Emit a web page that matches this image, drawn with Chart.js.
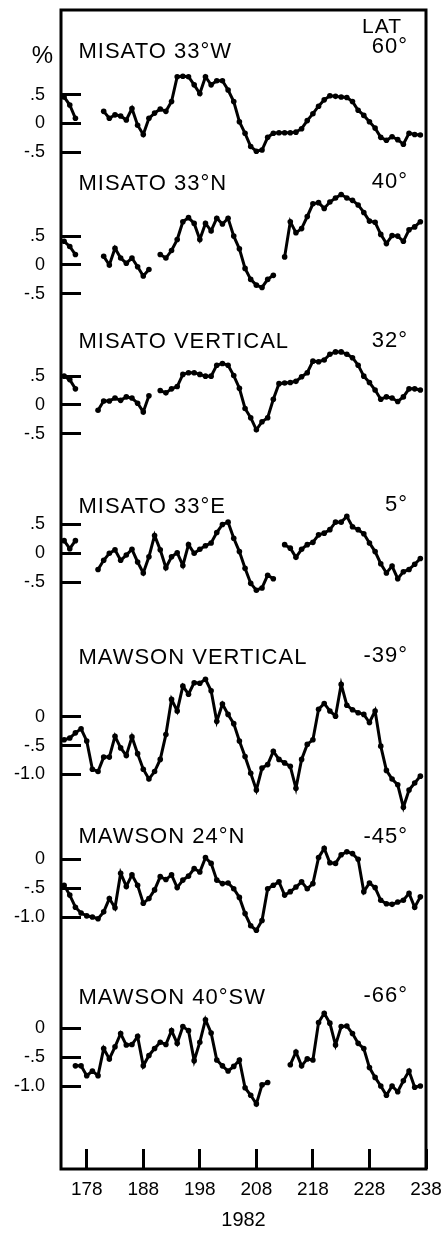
<!DOCTYPE html>
<html>
<head>
<meta charset="utf-8">
<script src="https://cdn.jsdelivr.net/npm/chart.js@4.4.1/dist/chart.umd.min.js"></script>
<style>
  html, body { margin: 0; padding: 0; background: #fff; }
  canvas { display: block; }
</style>
</head>
<body>
<canvas id="chart" width="444" height="1233"></canvas>
<script>
// Day of year, 1982
const days = [174,175,176,177,178,179,180,181,182,183,184,185,186,187,188,189,190,191,192,193,
  194,195,196,197,198,199,200,201,202,203,204,205,206,207,208,209,210,211,212,213,
  214,215,216,217,218,219,220,221,222,223,224,225,226,227,228,229,230,231,232,233,
  234,235,236,237];

// Percent deviation for each station / direction (null = no data)
const misato33W = [0.46,0.32,0.09,null,null,null,null,
  0.21,0.09,0.15,0.13,0.06,0.26,-0.03,-0.19,0.09,0.18,
  0.25,0.21,0.38,0.81,0.82,0.81,0.67,0.52,0.81,0.67,
  0.74,0.74,0.58,0.38,0.03,-0.17,-0.40,-0.48,-0.46,-0.24,
  -0.17,-0.16,-0.16,-0.16,-0.15,-0.09,0.05,0.17,0.30,0.41,
  0.48,0.47,0.46,0.45,0.38,0.23,0.14,0.03,-0.08,-0.24,
  -0.29,-0.23,-0.28,-0.36,-0.17,-0.19,-0.20];

const misato33N = [0.41,0.32,0.18,null,null,null,null,
  0.15,0.00,0.29,0.12,0.03,0.12,-0.03,-0.19,-0.08,null,
  0.18,0.12,0.25,0.44,0.75,0.82,0.72,0.44,0.72,0.59,
  0.81,0.71,0.81,0.50,0.28,-0.06,-0.25,-0.35,-0.39,-0.25,
  -0.18,null,0.14,0.75,0.56,0.63,0.84,1.06,1.08,0.98,
  1.09,1.16,1.22,1.16,1.12,1.04,0.91,0.76,0.74,0.53,
  0.37,0.51,0.50,0.41,0.61,0.66,0.75];

const misatoVertical = [0.50,0.44,0.28,null,null,null,-0.09,
  0.07,0.07,0.12,0.08,0.14,0.12,0.03,-0.12,0.16,null,
  0.25,0.21,0.28,0.32,0.53,0.56,0.56,0.53,0.50,0.50,
  0.69,0.72,0.69,0.51,0.29,-0.06,-0.22,-0.43,-0.29,-0.22,
  0.10,0.37,0.38,0.39,0.41,0.49,0.56,0.76,0.75,0.78,
  0.88,0.92,0.92,0.88,0.82,0.69,0.50,0.39,0.26,0.10,
  0.14,0.12,0.06,0.14,0.28,0.28,0.26];

const misato33E = [0.22,0.08,0.22,null,null,null,-0.28,
  -0.12,0.00,0.06,-0.12,-0.03,0.07,-0.15,-0.34,-0.06,0.31,
  0.06,-0.25,-0.06,0.01,-0.21,0.15,0.00,0.07,0.13,0.18,
  0.36,0.50,0.54,0.26,0.03,-0.26,-0.52,-0.64,-0.60,-0.38,
  -0.44,null,0.15,0.09,-0.07,0.07,0.15,0.19,0.32,0.35,
  0.41,0.54,0.54,0.64,0.46,0.41,0.34,0.18,0.03,-0.18,
  -0.34,-0.22,-0.44,-0.32,-0.28,-0.19,-0.09];

const mawsonVertical = [-0.40,-0.37,-0.28,-0.21,-0.42,-0.91,-0.95,
  -0.70,-0.70,-0.34,-0.54,-0.67,-0.35,-0.64,-0.91,-1.08,-0.95,
  -0.74,-0.31,0.30,0.10,0.53,0.39,0.59,0.58,0.65,0.45,
  -0.08,0.22,0.04,-0.12,-0.42,-0.69,-0.98,-1.27,-0.89,-0.83,
  -0.60,-0.74,-0.80,-0.86,-1.24,-0.74,-0.48,-0.40,0.13,0.23,
  0.10,0.01,0.56,0.20,0.12,0.07,0.04,-0.10,0.10,-0.51,
  -0.93,-1.08,-1.18,-1.57,-1.27,-1.15,-1.03];

const mawson24N = [-0.45,-0.62,-0.83,-0.93,-0.98,-1.00,-1.03,
  -0.91,-0.68,-0.84,-0.24,-0.47,-0.27,-0.45,-0.76,-0.68,-0.53,
  -0.30,-0.35,-0.27,-0.49,-0.36,-0.29,-0.16,-0.22,0.03,-0.07,
  -0.36,-0.42,-0.41,-0.51,-0.66,-0.94,-1.15,-1.23,-1.06,-0.51,
  -0.45,-0.39,-0.62,-0.56,-0.48,-0.39,-0.51,-0.42,0.03,0.19,
  -0.06,-0.07,0.08,0.13,0.10,0.00,-0.56,-0.41,-0.49,-0.71,
  -0.77,-0.78,-0.74,-0.71,-0.59,-0.83,-0.65];

const mawson40SW = [null,null,-0.65,-0.65,-0.82,-0.74,-0.82,
  -0.35,-0.53,-0.32,-0.09,-0.29,-0.28,-0.14,-0.65,-0.47,-0.35,
  -0.24,-0.28,-0.04,-0.26,0.03,-0.04,-0.56,-0.24,0.15,-0.08,
  -0.55,-0.65,-0.74,-0.66,-0.55,-1.03,-1.16,-1.31,-0.98,-0.94,
  null,null,null,-0.63,-0.41,-0.65,-0.53,-0.55,0.10,0.26,
  0.09,-0.29,0.03,0.04,-0.09,-0.26,-0.35,-0.68,-0.85,-1.00,
  -1.16,-1.00,-1.10,-0.91,-0.74,-1.02,-1.00];

const panelNames = ['MISATO 33°W','MISATO 33°N','MISATO VERTICAL','MISATO 33°E',
  'MAWSON VERTICAL','MAWSON 24°N','MAWSON 40°SW'];
const panelLats = ['60°','40°','32°','5°','-39°','-45°','-66°'];

// Tick values and their printed labels
const misatoTicks = [0.5, 0, -0.5];
const misatoTickLabels = ['.5', '0', '-.5'];
const mawsonTicks = [0, -0.5, -1.0];
const mawsonTickLabels = ['0', '-.5', '-1.0'];
const dayTicks = [178, 188, 198, 208, 218, 228, 238];
const yearLabel = '1982';
const unitLabel = '%';
const latHeader = 'LAT';

const series = [misato33W, misato33N, misatoVertical, misato33E, mawsonVertical, mawson24N, mawson40SW];

// Layout: value range of each stacked panel axis, and where its caption sits (in panel units)
const panelRanges = [[-0.979,1.967],[-1.127,1.473],[-1.127,1.300],[-1.329,1.444],
  [-1.444,1.503],[-1.832,1.028],[-2.438,1.097]];
const captionLevels = [1.13, 1.30, 0.98, 0.70, 0.91, 0.28, 0.43];
const latLevels = [1.22, 1.33, 1.01, 0.74, 0.95, 0.29, 0.46];

const FONT = '"Liberation Sans", Arial, Helvetica, sans-serif';
const INK = '#000';

const panelIds = series.map((_, i) => 'p' + (i + 1));

// Fixed axis footprint; drop the label overhang padding so the plot area keeps its size
const fixSize = (w, h) => s => {
  if (w !== null) s.width = w;
  if (h !== null) s.height = h;
  s.paddingTop = 0; s.paddingBottom = 0; s.paddingLeft = 0; s.paddingRight = 0;
};

const scales = {
  x: {
    type: 'linear',
    min: 173.45,
    max: 238,
    afterBuildTicks: s => { s.ticks = dayTicks.map(v => ({ value: v })); },
    afterFit: fixSize(null, 64),
    border: { display: false },
    grid: { drawOnChartArea: false, drawTicks: true, tickLength: -20, lineWidth: 3, color: INK },
    ticks: {
      autoSkip: false, maxRotation: 0, padding: 29, color: INK,
      font: { family: FONT, size: 19 },
      callback: v => String(v)
    },
    title: {
      display: true, text: yearLabel, color: INK,
      font: { family: FONT, size: 20 },
      padding: { top: 0, bottom: 1 }
    }
  }
};

// Left-hand stacked axes are laid out last-defined-first, so add the bottom panel first
panelIds.slice().reverse().forEach(id => {
  const i = panelIds.indexOf(id);
  const [lo, hi] = panelRanges[i];
  const isMisato = i < 4;
  const tv = isMisato ? misatoTicks : mawsonTicks;
  const tl = isMisato ? misatoTickLabels : mawsonTickLabels;
  scales[id] = {
    type: 'linear',
    position: 'left',
    stack: 'panels',
    stackWeight: hi - lo,
    min: lo,
    max: hi,
    afterBuildTicks: s => { s.ticks = tv.map(v => ({ value: v })); },
    afterFit: fixSize(61, null),
    border: { display: false },
    grid: { drawOnChartArea: false, drawTicks: true, tickLength: -20, lineWidth: 3, color: INK },
    ticks: {
      autoSkip: false, padding: 36, color: INK,
      font: { family: FONT, size: 18 },
      callback: (v, idx) => tl[idx]
    }
  };
});

const datasets = series.map((vals, i) => ({
  label: panelNames[i],
  yAxisID: panelIds[i],
  xAxisID: 'x',
  data: days.map((d, k) => ({ x: d, y: vals[k] })),
  borderColor: INK,
  backgroundColor: INK,
  borderWidth: 3,
  pointRadius: 2.8,
  pointBorderWidth: 0,
  pointBackgroundColor: INK,
  tension: 0,
  spanGaps: false,
  clip: false
}));

// Frame around the plotting area plus the panel captions
const captions = {
  id: 'captions',
  afterDraw(chart) {
    const { ctx, chartArea: a } = chart;
    ctx.save();
    ctx.strokeStyle = INK;
    ctx.lineWidth = 3;
    ctx.strokeRect(a.left, a.top, a.right - a.left, a.bottom - a.top);

    ctx.fillStyle = INK;
    ctx.textBaseline = 'alphabetic';
    if ('letterSpacing' in ctx) ctx.letterSpacing = '1px';
    panelIds.forEach((id, i) => {
      const s = chart.scales[id];
      ctx.font = `22px ${FONT}`;
      ctx.textAlign = 'left';
      ctx.fillText(panelNames[i], a.left + 17.5, s.getPixelForValue(captionLevels[i]));
      ctx.textAlign = 'right';
      ctx.fillText(panelLats[i], a.right - 18, s.getPixelForValue(latLevels[i]));
    });
    const top = chart.scales[panelIds[0]];
    ctx.font = `21px ${FONT}`;
    ctx.textAlign = 'right';
    ctx.fillText(latHeader, a.right - 24, a.top + 23);
    if ('letterSpacing' in ctx) ctx.letterSpacing = '0px';
    ctx.font = `24px ${FONT}`;
    ctx.fillText(unitLabel, a.left - 8, top.getPixelForValue(1.05));
    ctx.restore();
  }
};

new Chart(document.getElementById('chart'), {
  type: 'line',
  data: { datasets },
  options: {
    responsive: false,
    animation: false,
    devicePixelRatio: 1,
    layout: { padding: { top: 10, right: 18, bottom: 0, left: 0 } },
    plugins: { legend: { display: false }, tooltip: { enabled: false } },
    scales
  },
  plugins: [captions]
});
</script>
</body>
</html>
